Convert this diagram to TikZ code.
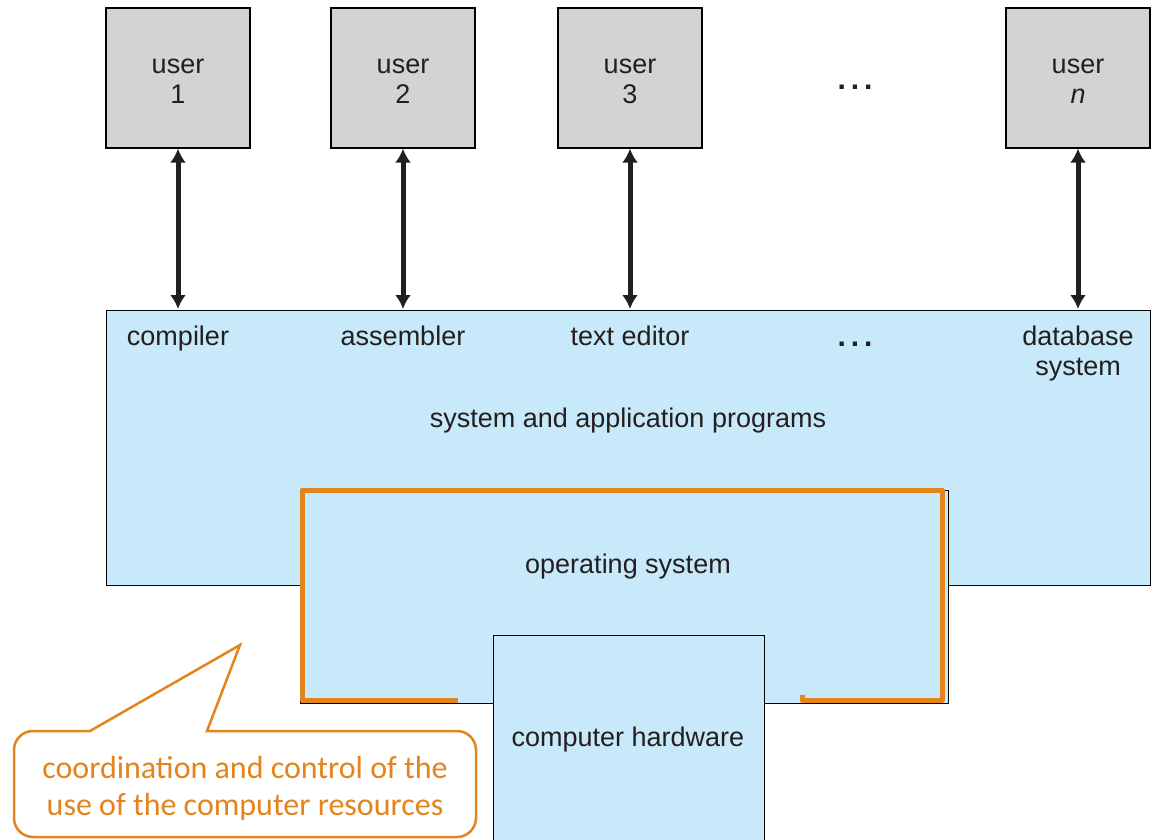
\documentclass[tikz,border=0pt]{standalone}
\usepackage{fontspec}
\setmainfont{Liberation Sans}
\newfontfamily\notefont{Carlito}
\usetikzlibrary{arrows.meta}
\definecolor{usergray}{HTML}{D1D3D4}
\definecolor{progblue}{HTML}{C8E9F9}
\definecolor{noteorange}{HTML}{E3841C}
\definecolor{inktext}{HTML}{231F20}
\tikzset{
  userbox/.style={draw=black, line width=1.3pt, fill=usergray, minimum width=144pt, minimum height=140pt, inner sep=0pt},
  layerbox/.style={draw=black, line width=1pt, fill=progblue},
  lbl/.style={text=inktext, font=\fontsize{27}{30}\selectfont, align=center, inner sep=0pt, anchor=base},
  link/.style={line width=5pt, draw=inktext, {Latex[length=14pt,width=16pt]}-{Latex[length=14pt,width=16pt]}},
  dots/.style={text=inktext, font=\fontsize{30}{30}\selectfont\bfseries, inner sep=0pt, anchor=base},
}
\begin{document}
\begin{tikzpicture}[x=1pt, y=-1pt]
\useasboundingbox (0,0) rectangle (1152,840);

% users
\node[userbox] (u1) at (178,78) {};
\node[userbox] (u2) at (403,78) {};
\node[userbox] (u3) at (630,78) {};
\node[userbox] (un) at (1078,78) {};
\node[lbl] at (178,74) {user};
\node[lbl] at (178,104) {1};
\node[lbl] at (403,74) {user};
\node[lbl] at (403,104) {2};
\node[lbl] at (630,74) {user};
\node[lbl] at (630,104) {3};
\node[lbl] at (1078,74) {user};
\node[lbl] at (1078,104) {\itshape n};
\node[dots] (topdots) at (855,90) {.\,.\,.};

% system and application programs layer
\node[layerbox, minimum width=1044pt, minimum height=275pt, inner sep=0pt] (apps) at (628,447.5) {};

% operating system layer
\node[layerbox, minimum width=648pt, minimum height=213pt, inner sep=0pt] (os) at (624,596.5) {};
\fill[progblue] (301,491) rectangle (947,586);

% computer hardware
\node[layerbox, minimum width=271pt, minimum height=215pt, inner sep=0pt] (hw) at (628.5,742.5) {};

% program labels
\node[lbl] (comp) at (178,345) {compiler};
\node[lbl] (asm) at (403,345) {assembler};
\node[lbl] (ted) at (630,345) {text editor};
\node[dots] (progdots) at (855,346) {.\,.\,.};
\node[lbl] (db) at (1078,345) {database};
\node[lbl] (dbs) at (1078,375) {system};
\node[lbl] at (628,427) {system and application programs};
\node[lbl] at (628,573) {operating system};
\node[lbl] at (628,746) {computer hardware};

% user <-> program links
\coordinate (p1) at (178,309);
\coordinate (p2) at (403,309);
\coordinate (p3) at (630,309);
\coordinate (pn) at (1078,309);
\draw[link] (u1.south) -- (p1);
\draw[link] (u2.south) -- (p2);
\draw[link] (u3.south) -- (p3);
\draw[link] (un.south) -- (pn);

% highlight of the operating system
\draw[noteorange, line width=5pt, line join=round] (458,700) -- (302,700) -- (302,490) -- (942,490) -- (942,700) -- (802,700) -- (802,695);

% callout
\draw[noteorange, line width=2.5pt, line join=miter, fill=white]
  (90,731) -- (240,645) -- (207,731) -- (457,731)
  arc[start angle=-90, end angle=0, radius=19] -- (476,818)
  arc[start angle=0, end angle=90, radius=19] -- (33,837)
  arc[start angle=90, end angle=180, radius=19] -- (14,750)
  arc[start angle=180, end angle=270, radius=19] -- cycle;
\node[text=noteorange, font=\notefont\fontsize{32}{38}\selectfont, inner sep=0pt, anchor=base] (note1) at (245,778) {coordination and control of the};
\node[text=noteorange, font=\notefont\fontsize{32}{38}\selectfont, inner sep=0pt, anchor=base] (note2) at (245,815) {use of the computer resources};
\end{tikzpicture}
\end{document}
